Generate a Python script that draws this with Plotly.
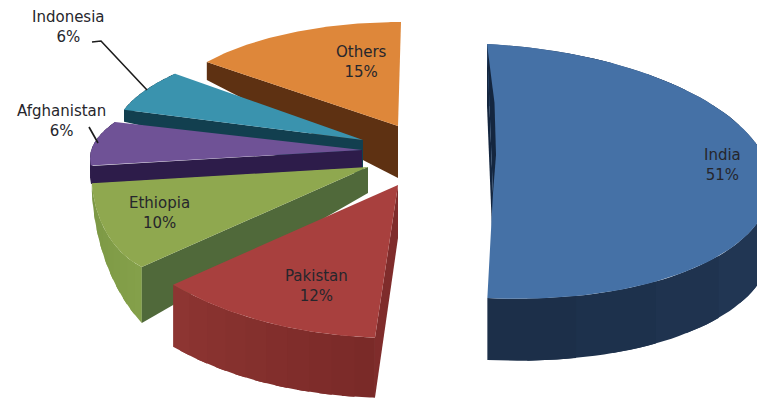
import numpy as np
import plotly.graph_objects as go

countries = ["India", "Pakistan", "Ethiopia", "Afghanistan", "Indonesia", "Others"]
shares = [51, 12, 10, 6, 6, 15]

top_colors = ["#4571a6", "#a8403e", "#8fa84f", "#6f5296", "#3a93ae", "#de873a"]
cut_colors = ["#14263f", "#7f2c2b", "#50693a", "#2d1c4a", "#123f4f", "#5e3112"]
side_from = ["#2b4467", "#7a2a28", "#84a04a", "#2d1c4a", "#123f4f", "#5e3112"]
side_to = ["#1c2f49", "#8d3532", "#7b9845", "#2d1c4a", "#123f4f", "#5e3112"]

# per-slice projection: apex, ellipse centre and radii, skew, arc offset and stretch, depths
geometry = {
    "India": dict(apex=(493, 193), c=(487, 171), r=(284, 127), skew=14, off=0, k=0.98, d=(62, 62, 62)),
    "Pakistan": dict(apex=(398, 185), c=(394, 169), r=(303, 169), skew=0, off=0, k=1.0, d=(53, 60, 62)),
    "Ethiopia": dict(apex=(368, 167), c=(168, 174.4), r=(76.5, 98.5), skew=0, off=-26.8, k=1.8, d=(26, 56, 8)),
    "Afghanistan": dict(apex=(362, 150), c=(356, 158.5), r=(266, 86), skew=0, off=2.2, k=1.39, d=(18, 18, 18)),
    "Indonesia": dict(apex=(363, 140), c=(434, 136), r=(320, 106), skew=0, off=0, k=1.0, d=(35, 12, 12)),
    "Others": dict(apex=(398, 126), c=(401, 119), r=(240, 97), skew=0, off=0, k=1.0, d=(52, 18, 0)),
}
label_pos = {
    "India": (722, 165), "Pakistan": (316, 286), "Ethiopia": (159, 213),
    "Afghanistan": (61, 121), "Indonesia": (68, 27), "Others": (361, 62),
}
draw_order = ["India", "Others", "Indonesia", "Afghanistan", "Ethiopia", "Pakistan"]
leaders = [((92, 42), (101, 41), (147, 90)), ((89, 127), (98, 143))]


def hex_rgb(h):
    return np.array([int(h[i:i + 2], 16) for i in (1, 3, 5)], float)


def mix(a, b, f):
    c = hex_rgb(a) * (1 - f) + hex_rgb(b) * f
    return "rgb(%d,%d,%d)" % tuple(c)


def arc(g, t):
    phi = np.radians(t[0] + g["off"] + g["k"] * (t - t[0]))
    x = g["c"][0] + g["r"][0] * np.sin(phi)
    y = g["c"][1] - g["r"][1] * np.cos(phi) + g["skew"] * np.sin(phi)
    return x, y


def poly(fig, x, y, color, width=0.0):
    fig.add_trace(go.Scatter(
        x=list(x), y=list(y), mode="lines", fill="toself", fillcolor=color,
        line=dict(color=color, width=width), hoverinfo="skip", showlegend=False))


fig = go.Figure()
edges = np.cumsum([0] + shares) * 3.6
start = {n: edges[i] for i, n in enumerate(countries)}
stop = {n: edges[i + 1] for i, n in enumerate(countries)}

for name in draw_order:
    i = countries.index(name)
    g = geometry[name]
    t = np.linspace(start[name], stop[name], 90)
    x, y = arc(g, t)
    ax, ay = g["apex"]
    d_apex, d0, d1 = g["d"]
    depth = np.linspace(d0, d1, len(t))
    # rim, in overlapping strips so that its shading can run along the arc
    if name != "Others":
        n_strips = 10
        cuts = np.linspace(0, len(t) - 1, n_strips + 1).astype(int)
        for s in range(n_strips):
            a, b = cuts[s], min(cuts[s + 1] + 6, len(t))
            colr = mix(side_from[i], side_to[i], s / (n_strips - 1))
            poly(fig, np.r_[x[a:b], x[a:b][::-1]],
                 np.r_[y[a:b], (y[a:b] + depth[a:b])[::-1]], colr)
    # cut face at the start of the slice
    poly(fig, [ax, x[0], x[0], ax], [ay, y[0], y[0] + d0, ay + d_apex], cut_colors[i])
    # top face
    poly(fig, np.r_[ax, x, ax], np.r_[ay, y, ay], top_colors[i])
    if name == "India":
        poly(fig, [x[0], ax, ax + 3, ax + 1.5, x[0]],
             [y[0], ay, ay - 38, ay - 90, y[0]], cut_colors[i])

for pts in leaders:
    fig.add_trace(go.Scatter(x=[p[0] for p in pts], y=[p[1] for p in pts], mode="lines",
                             line=dict(color="#1c1c1c", width=1.6), hoverinfo="skip", showlegend=False))

for name, v in zip(countries, shares):
    px, py = label_pos[name]
    fig.add_annotation(x=px, y=py, text=f"{name}<br>{v}%", showarrow=False, xref="x", yref="y",
                       font=dict(family="DejaVu Sans", size=15, color="#26262c"))

fig.update_layout(
    width=757, height=401, margin=dict(l=0, r=0, t=0, b=0),
    paper_bgcolor="white", plot_bgcolor="white", showlegend=False,
    xaxis=dict(range=[0, 757], visible=False, fixedrange=True),
    yaxis=dict(range=[401, 0], visible=False, fixedrange=True),
)
fig.write_html("out.html", config={"displayModeBar": False},
               post_script="document.body.style.margin='0';document.body.style.overflow='hidden';")
